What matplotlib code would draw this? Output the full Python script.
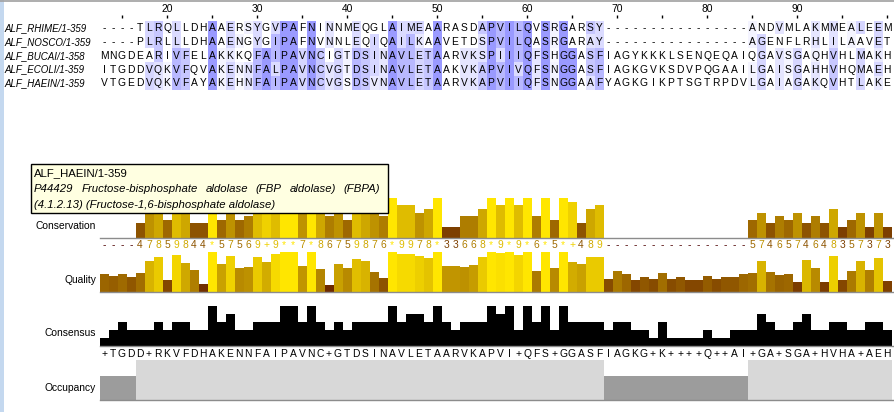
import matplotlib
matplotlib.use("Agg")
import matplotlib.pyplot as plt
from matplotlib.patches import Rectangle
import numpy as np

plt.rcParams['font.family'] = ['Liberation Sans', 'DejaVu Sans']

# --- data (columns 13..100 visible) ---
first_col = 13
names = ["ALF_RHIME/1-359", "ALF_NOSCO/1-359", "ALF_BUCAI/1-358",
         "ALF_ECOLI/1-359", "ALF_HAEIN/1-359"]
seqs = [
    "----TLRQLLDHAAERSYGVPAFNINNMEQGLAIMEAARASDAPVILQVSRGARSY----------------ANDVMLAKMMEALEEM",
    "----PLRLLLDHAAENGYGIPAFNVNNLEQIQAILKAAVETDSPVILQASRGARAY----------------AGENFLRHLILAAVET",
    "MNGDEARIVFELAKKKQFAIPAVNCIGTDSINAVLETAARVKSPIIIQFSHGGASFIAGYKKKLSENQEQAIQGAVSGAQHVHLMAKH",
    "ITGDDVQKVFQVAKENNFALPAVNCVGTDSINAVLETAAKVKAPVIVQFSNGGASFIAGKGVKSDVPQGAAILGAISGAHHVHQMAEH",
    "VTGEDVQKVFAYAKEHNFAIPAVNCVGSDSVNAVLETAARVKAPVIIQFSNGGAAFYAGKGIKPTSGTRPDVLGAIAGAKQVHTLAKE",
]
conservation = "----47859844*57569+9**7*86759876*9978*33668*9*9*6*5*+489----------------5746574648357373"
quality = [0.44, 0.41, 0.46, 0.38, 0.48, 0.78, 0.88, 0.31, 0.93, 0.73, 0.55, 0.21,
           1.0, 0.70, 0.91, 0.60, 0.63, 0.88, 0.75, 0.95, 1.0, 1.0, 0.65, 1.0,
           0.58, 0.18, 0.70, 0.60, 0.83, 0.78, 0.50, 0.36, 1.0, 0.95, 0.95, 0.90,
           0.85, 1.0, 0.65, 0.65, 0.63, 0.68, 0.88, 1.0, 0.975, 1.0, 0.93, 1.0,
           0.53, 1.0, 0.60, 1.0, 0.75, 0.70, 0.88, 0.88, 0.33, 0.53, 0.45, 0.31,
           0.38, 0.33, 0.48, 0.33, 0.38, 0.31, 0.31, 0.40, 0.33, 0.38, 0.38, 0.45,
           0.48, 0.78, 0.50, 0.43, 0.45, 0.26, 0.80, 0.60, 0.26, 0.90, 0.31, 0.53,
           0.78, 0.55, 0.85, 0.28]
consensus = "+TGDD+RKVFDHAKENNFAIPAVNC+GTDSINAVLETAARVKAPVI+QFS+GGASFIAGKG+K++++Q++AI+GA+SGA+HVHA+AEH"
consensus_pct = [20, 40, 60, 40, 40, 40, 60, 40, 60, 60, 40, 40, 100, 60, 80, 40, 40, 60, 60, 60, 100, 100,
                 60, 100, 60, 40, 60, 40, 60, 60, 60, 60, 100, 60, 80, 80, 60, 100,
                 60, 40, 60, 60, 60, 100, 80, 100, 40, 100, 60, 100, 40, 100, 60, 60, 60, 60,
                 40, 60, 60, 40, 40, 20, 60, 20, 20, 20, 20, 40, 20, 20, 40, 40,
                 40, 80, 60, 40, 40, 60, 80, 40, 40, 60, 60, 40, 40, 60, 60, 40]
# residues tied in the '+' consensus columns
ties = {18: "LV", 38: "NV", 59: "IL", 63: "NR", 85: "AL", 88: "IV", 92: "HK", 97: "LM"}
tip_title = "ALF_HAEIN/1-359"
tip_line2 = "P44429 Fructose-bisphosphate aldolase (FBP aldolase) (FBPA)"
tip_line3 = "(4.1.2.13) (Fructose-1,6-bisphosphate aldolase)"

# BLOSUM62 scores needed by the colour scheme (others count as 0)
blosum = {"AS": 1, "KR": 2, "QR": 1, "DN": 1, "HN": 1, "NS": 1, "DE": 2, "EQ": 2,
          "KQ": 1, "EK": 1, "HY": 2, "IL": 2, "IM": 1, "IV": 3, "LM": 2, "LV": 1,
          "MV": 1, "FW": 1, "FY": 3, "ST": 1, "WY": 2, "IN": -3, "NV": -3,
          "AL": -1, "AM": -1, "LQ": -2, "AQ": -1}

n = len(conservation)
cols = np.arange(first_col, first_col + n)
cons_val = [11 if ch == '*' else 10 if ch == '+' else 0 if ch == '-' else int(ch) for ch in conservation]
occupancy = [sum(s[i] != '-' for s in seqs) for i in range(n)]


def brown_yellow(v):
    return (0.3 + 0.7 * v, 0.9 * v, 0.0)


def cell_colour(res, i):
    # BLOSUM62 colouring shaded by conservation (Jalview style)
    if res == '-':
        return (1, 1, 1)
    cres = ties.get(cols[i], consensus[i])
    if res in cres:
        base = 154
    else:
        score = sum(blosum.get("".join(sorted(res + c)), 0) for c in cres)
        base = 204 if score > 0 else 255
    if base == 255:
        return (1, 1, 1)
    c = conservation[i]
    if c in "*+":
        v = base
    elif c == '-':
        return (1, 1, 1)
    else:
        d = int((255 - base) * (11 - int(c)) / 10)
        v = base + int(1.5 * d)
        if v > 255:
            return (1, 1, 1)
    return (v / 255, v / 255, 1.0)


W, H = 894, 412
X0, CW = 99.5, 9
x_lo = first_col - 0.5
x_hi = x_lo + (W - X0) / CW

fig = plt.figure(figsize=(W / 100, H / 100), dpi=100)


def px_axes(left, top, right, bottom, **kw):
    ax = fig.add_axes([left / W, 1 - bottom / H, (right - left) / W, (bottom - top) / H], **kw)
    ax.axis('off')
    return ax


bg = px_axes(0, 0, W, H)
bg.set_xlim(0, W)
bg.set_ylim(H, 0)
bg.add_patch(Rectangle((0, 0), 3.5, H, color='#c4d8ef', lw=0))
bg.axhline(0.6, color='#a0a0a0', lw=1.2)

FS = 7.4

# ruler
ruler = px_axes(X0, 0, W, 20)
ruler.set_xlim(x_lo, x_hi)
ruler.set_ylim(20, 0)
for c in range(15, cols[-1] + 1, 5):
    ruler.vlines(c, 14.5, 18, color='black', lw=1)
for c in range(20, cols[-1], 10):
    ruler.text(c, 9, str(c), ha='center', va='center', fontsize=FS)

# alignment
aln = px_axes(X0, 20.5, W, 90)
rgb = np.array([[cell_colour(s[i], i) for i in range(n)] for s in seqs])
aln.imshow(rgb, extent=(x_lo, x_lo + n, 5.5, 0.5), aspect='auto', interpolation='nearest')
aln.set_xlim(x_lo, x_hi)
aln.set_ylim(5.5, 0.5)
for r, s in enumerate(seqs, start=1):
    for i, ch in enumerate(s):
        aln.text(cols[i], r + 0.03, ch, ha='center', va='center', fontsize=FS)

ids = px_axes(0, 20.5, X0, 90)
ids.set_xlim(0, X0)
ids.set_ylim(5.5, 0.5)
for r, name in enumerate(names, start=1):
    ids.text(4, r + 0.03, name, ha='left', va='center', fontsize=7.0, style='italic')

# annotation rows
ax_c = px_axes(X0, 198, W, 238)
ax_c.bar(cols, cons_val, width=1.0, color=[brown_yellow(v / 11) for v in cons_val], lw=0)
for i, ch in enumerate(conservation):
    ax_c.text(cols[i], -0.17, ch, transform=ax_c.get_xaxis_transform(), ha='center', va='center',
              fontsize=FS, color=brown_yellow(cons_val[i] / 11))
ax_c.set_ylim(0, 11)

ax_q = px_axes(X0, 252, W, 292)
ax_q.bar(cols, quality, width=1.0, color=[brown_yellow(v) for v in quality], lw=0)
ax_q.set_ylim(0, 1)

ax_k = px_axes(X0, 306, W, 346)
ax_k.bar(cols, consensus_pct, width=1.0, color='black', lw=0)
for i, ch in enumerate(consensus):
    ax_k.text(cols[i], -0.2, ch, transform=ax_k.get_xaxis_transform(), ha='center', va='center',
              fontsize=FS, color='black')
ax_k.set_ylim(0, 100)

ax_o = px_axes(X0, 360, W, 400)
ax_o.bar(cols, occupancy, width=1.0,
         color=['#d8d8d8' if v == len(seqs) else '#9c9c9c' for v in occupancy], lw=0)
ax_o.set_ylim(0, len(seqs))

for ax in (ax_c, ax_q, ax_k, ax_o):
    ax.set_xlim(x_lo, x_hi)
    ax.axhline(0, color='#8c8c8c', lw=1, clip_on=False)

for label, y in [("Conservation", 226), ("Quality", 280), ("Consensus", 333), ("Occupancy", 388)]:
    bg.text(96, y, label, ha='right', va='center', fontsize=FS)

# tooltip
ov = px_axes(0, 0, W, H)
ov.set_zorder(10)
ov.set_xlim(0, W)
ov.set_ylim(H, 0)
ov.add_patch(Rectangle((30.5, 163.5), 357, 49, facecolor='#ffffe1', edgecolor='black', lw=1))
ov.text(34, 173, tip_title, ha='left', va='center', fontsize=8.2)
renderer = fig.canvas.get_renderer()
words = tip_line2.split()
objs = [ov.text(34, 189, w, ha='left', va='center', fontsize=8.2, style='italic') for w in words]
widths = [o.get_window_extent(renderer).width for o in objs]
gap = (380 - 34 - sum(widths)) / (len(words) - 1)
x = 34
for o, w in zip(objs, widths):
    o.set_x(x)
    x += w + gap
ov.text(34, 204.5, tip_line3, ha='left', va='center', fontsize=8.2, style='italic')

fig.savefig("out.png", dpi=100)
